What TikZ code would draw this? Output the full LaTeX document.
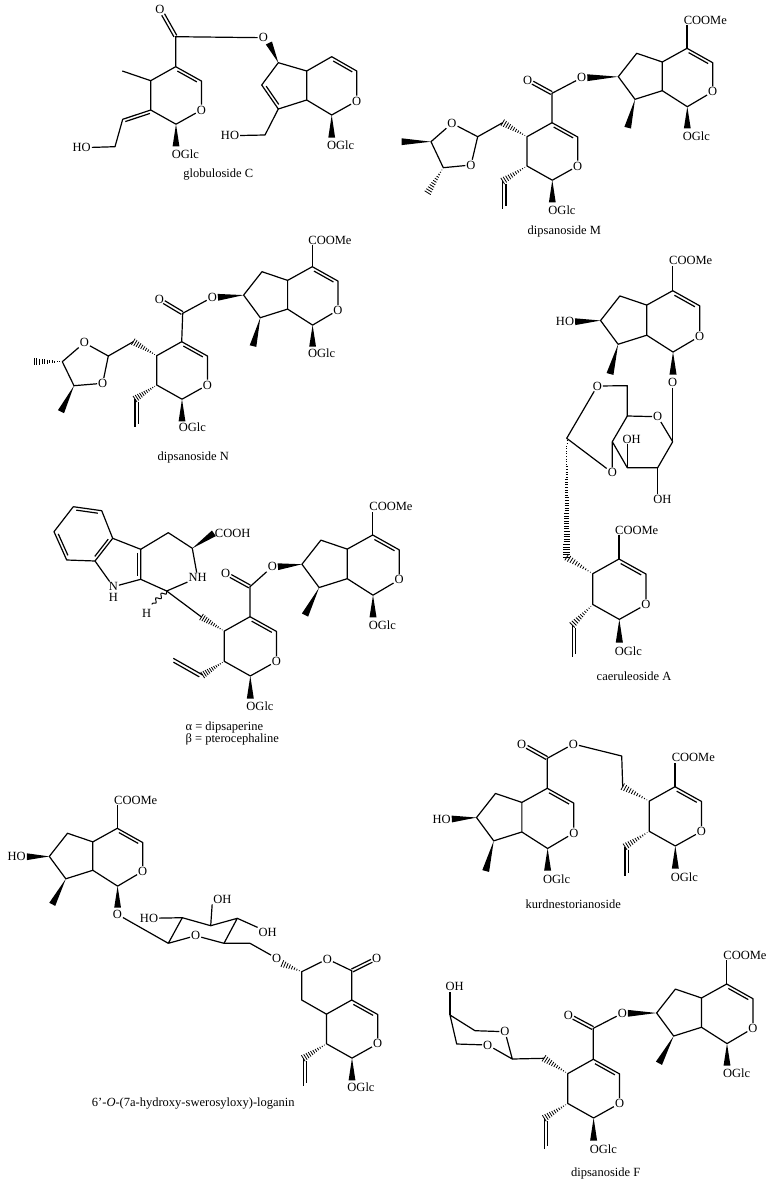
\documentclass[tikz,border=0pt]{standalone}
\usepackage{fontspec}
\setmainfont{Liberation Serif}[Ligatures=Common]
\usetikzlibrary{calc,decorations.pathmorphing}

\tikzset{
  atom/.style={inner sep=.5pt,font=\fontsize{12.5}{14}\selectfont},
  caption/.style={inner sep=0pt,font=\fontsize{12.5}{14}\selectfont},
  wavy/.style={decorate,decoration={snake,amplitude=2pt,segment length=7pt}},
}

\newcommand\dbond[4][.12]{\draw ($(#2)!#1!(#3)!#4!90:(#3)$) -- ($(#3)!#1!(#2)!#4!-90:(#2)$);}
\newcommand\cobond[2]{%
  \draw ($(#1)!.02!(#2)!1.6pt!90:(#2)$) -- ($(#2)!.2!(#1)!1.6pt!-90:(#1)$);
  \draw ($(#1)!.02!(#2)!-1.6pt!90:(#2)$) -- ($(#2)!.2!(#1)!-1.6pt!-90:(#1)$);}
\newcommand\wedgebond[2]{\fill (#1) -- ($(#2)!3.4pt!90:(#1)$) -- ($(#2)!3.4pt!-90:(#1)$) -- cycle;}
\newcommand\hashbond[3]{\foreach \i in {1,...,#3}{%
  \pgfmathsetmacro\t{\i/#3}\pgfmathsetmacro\w{\t*3.6}%
  \draw[line width=.8pt] ($(#1)!\t!(#2)!\w pt!90:(#1)$) -- ($(#1)!\t!(#2)!\w pt!-90:(#1)$);}}

\newcommand\secoring[4]{%
  \begin{scope}[shift={(#2,#3)},scale=#4,name prefix=#1-]
    \coordinate (c4) at (0,0);
    \coordinate (c3) at (25.7,14.3);
    \node[atom] (o2) at (25.7,43.3) {O};
    \coordinate (c1) at (.3,57.5);
    \coordinate (c9) at (-25,43.3);
    \coordinate (c5) at (-25,14);
    \coordinate (w1) at (.3,79.6);
    \draw[line join=round] (o2) -- (c3) -- (c4) -- (c5) -- (c9) -- (c1) -- (o2);
    \dbond{c4}{c3}{-3pt}
    \wedgebond{c1}{w1}
  \end{scope}}

\newcommand\iridoid[6]{%
  \begin{scope}[shift={(#2,#3)},scale=#4,name prefix=#1-]
    \coordinate (c4) at (0,0);
    \coordinate (c3) at (25.7,14.4);
    \node[atom] (o2) at (25.7,43.4) {O};
    \coordinate (c1) at (.3,58.4);
    \coordinate (c9) at (-24.7,42.4);
    \coordinate (c5) at (-24.7,13.7);
    \coordinate (c6) at (-50.3,5);
    \coordinate (c7) at (-68.7,28.4);
    \coordinate (c8) at (-52,51);
    \coordinate (me) at (#5,#6);
    \coordinate (w1) at (.3,80);
    \draw[line join=round] (o2) -- (c3) -- (c4) -- (c5) -- (c9) -- (c1) -- (o2);
    \draw[line join=round] (c5) -- (c6) -- (c7) -- (c8) -- (c9);
    \dbond{c4}{c3}{-3pt}
    \wedgebond{c8}{me}
    \wedgebond{c1}{w1}
  \end{scope}}

\newcommand\coome[3]{%
  \node[atom] (#1-coome) at (#2,#3) {COOMe};
  \draw (#1-c4) -- (#1-c4 |- #1-coome.south);}

\begin{document}
\begin{tikzpicture}[x=1pt,y=-1pt,line width=1.2pt]
  \useasboundingbox (0,0) rectangle (772,1185);

  \secoring{ga}{175.7}{66.7}{1}
  \node[atom] (ga-oglc) at (185.3,154.3) {OGlc};
  \node[atom] (ga-co) at (160,9) {O};
  \coordinate (ga-c) at (175.7,36.7);
  \node[atom] (gb-oe) at (263.3,37.7) {O};
  \coordinate (ga-me) at (122.3,71);
  \coordinate (ga-ch) at (122.7,119.3);
  \coordinate (ga-ch2) at (115,146.7);
  \node[atom] (ga-ho) at (81.7,147.7) {HO};
  \draw (ga-c4) -- (ga-c) -- (gb-oe);
  \cobond{ga-c}{ga-co}
  \draw (ga-c5) -- (ga-me);
  \draw[line join=round] (ga-c9) -- (ga-ch) -- (ga-ch2) -- (ga-ho);
  \dbond[.06]{ga-c9}{ga-ch}{3pt}
  \coordinate (gb-c6) at (278.3,62.7);
  \coordinate (gb-c5) at (306.7,71);
  \coordinate (gb-c4) at (331.7,56.7);
  \coordinate (gb-c3) at (356.7,71);
  \node[atom] (gb-o2) at (356.7,101) {O};
  \coordinate (gb-c1) at (331.7,115);
  \coordinate (gb-c9) at (306.7,100);
  \coordinate (gb-c8) at (278.3,109);
  \coordinate (gb-c7) at (261.7,85);
  \coordinate (gb-ch2) at (265,135);
  \coordinate (gb-w1) at (331.7,137.7);
  \node[atom] (gb-ho) at (230,135.7) {HO};
  \node[atom] (gb-oglc) at (340.7,145) {OGlc};
  \draw[line join=round] (gb-o2) -- (gb-c3) -- (gb-c4) -- (gb-c5) -- (gb-c9) -- (gb-c1) -- (gb-o2);
  \draw[line join=round] (gb-c5) -- (gb-c6) -- (gb-c7) -- (gb-c8) -- (gb-c9);
  \draw[line join=round] (gb-c8) -- (gb-ch2) -- (gb-ho);
  \dbond{gb-c4}{gb-c3}{-3pt}
  \dbond{gb-c7}{gb-c8}{3pt}
  \wedgebond{gb-c6}{gb-oe.south east}
  \wedgebond{gb-c1}{gb-w1}
  \node[caption] (ga-name) at (218.3,175) {globuloside C};

  \iridoid{ma}{687}{48.3}{1}{-59.3}{79.4}
  \coome{ma}{705.3}{20}
  \node[atom] (ma-oglc) at (696.3,136) {OGlc};
  \secoring{mb}{552}{122.7}{1}
  \node[atom] (mb-oglc) at (562,210) {OGlc};
  \node[atom] (ma-oe) at (581.7,77.7) {O};
  \coordinate (mb-c) at (552,93.3);
  \node[atom] (mb-co) at (527.7,80) {O};
  \draw (mb-c4) -- (mb-c) -- (ma-oe);
  \cobond{mb-c}{mb-co}
  \wedgebond{ma-c7}{ma-oe.east}
  \coordinate (mb-ch2) at (502.7,122.7);
  \coordinate (mb-v1) at (502.7,181);
  \coordinate (mb-v2) at (502.7,209.3);
  \hashbond{mb-c5}{mb-ch2}{11}
  \hashbond{mb-c9}{mb-v1}{11}
  \draw (mb-v1) -- (mb-v2);
  \dbond[.1]{mb-v1}{mb-v2}{3.3pt}
  \coordinate (mc-c2) at (477.7,136.7);
  \node[atom] (mc-o1) at (452,123.3) {O};
  \coordinate (mc-c4) at (431,141.7);
  \coordinate (mc-c5) at (443.3,167.7);
  \node[atom] (mc-o3) at (471,165) {O};
  \coordinate (mc-me1) at (401.7,141.7);
  \coordinate (mc-me2) at (427.7,192.7);
  \draw[line join=round] (mb-ch2) -- (mc-c2) -- (mc-o1) -- (mc-c4) -- (mc-c5) -- (mc-o3) -- (mc-c2);
  \wedgebond{mc-c4}{mc-me1}
  \hashbond{mc-c5}{mc-me2}{11}
  \node[caption] (ma-name) at (564.3,231.7) {dipsanoside M};

  \iridoid{na}{312.3}{266.7}{1}{-59.3}{79.4}
  \coome{na}{330}{240}
  \node[atom] (na-oglc) at (321.7,353.3) {OGlc};
  \secoring{nb}{181.7}{341.7}{1}
  \node[atom] (nb-oglc) at (192.3,427.7) {OGlc};
  \node[atom] (na-oe) at (212.3,297.3) {O};
  \coordinate (nb-c) at (182.7,313.3);
  \node[atom] (nb-co) at (159.3,299.3) {O};
  \draw (nb-c4) -- (nb-c) -- (na-oe);
  \cobond{nb-c}{nb-co}
  \wedgebond{na-c7}{na-oe.east}
  \coordinate (nb-ch2) at (133.3,341.7);
  \coordinate (nb-v1) at (135,399);
  \coordinate (nb-v2) at (135,427);
  \hashbond{nb-c5}{nb-ch2}{11}
  \hashbond{nb-c9}{nb-v1}{11}
  \draw (nb-v1) -- (nb-v2);
  \dbond[.1]{nb-v1}{nb-v2}{3.3pt}
  \coordinate (nc-c2) at (108.3,356);
  \node[atom] (nc-o1) at (84.3,342.7) {O};
  \coordinate (nc-c4) at (62.3,361.7);
  \coordinate (nc-c5) at (74,385.7);
  \node[atom] (nc-o3) at (102.7,383.3) {O};
  \coordinate (nc-me1) at (34.3,361.7);
  \coordinate (nc-me2) at (61,411.7);
  \draw[line join=round] (nb-ch2) -- (nc-c2) -- (nc-o1) -- (nc-c4) -- (nc-c5) -- (nc-o3) -- (nc-c2);
  \hashbond{nc-c4}{nc-me1}{11}
  \wedgebond{nc-c5}{nc-me2}
  \node[caption] (na-name) at (193.3,457.3) {dipsanoside N};

  \iridoid{ca}{672.7}{290.7}{1.05}{-59.7}{79.3}
  \coome{ca}{690.7}{260.7}
  \node[atom] (ca-ho) at (565,321.7) {HO};
  \wedgebond{ca-c7}{ca-ho.east}
  \node[atom] (cs-o1) at (672.7,382.3) {O};
  \coordinate (cs-c1) at (672.7,441.7);
  \node[atom] (cs-o5) at (657.7,416.7) {O};
  \coordinate (cs-c5) at (627.3,416);
  \coordinate (cs-c6) at (627.3,385.7);
  \node[atom] (cs-o6) at (597.3,386) {O};
  \coordinate (cs-ac) at (566.7,438.3);
  \node[atom] (cs-o4) at (612.3,472.7) {O};
  \coordinate (cs-c4) at (612.3,441.7);
  \coordinate (cs-c3) at (627.3,467.7);
  \coordinate (cs-c2) at (657.7,467.7);
  \node[atom] (cs-oh3) at (631.7,439) {OH};
  \node[atom] (cs-oh2) at (662.3,499.3) {OH};
  \draw (cs-o1) -- (cs-c1);
  \draw[line join=round] (cs-c1) -- (cs-o5) -- (cs-c5) -- (cs-c4) -- (cs-c3) -- (cs-c2) -- (cs-c1);
  \draw[line join=round] (cs-c5) -- (cs-c6) -- (cs-o6) -- (cs-ac) -- (cs-o4) -- (cs-c4);
  \draw (cs-c3) -- (cs-c3 |- cs-oh3.south);
  \draw (cs-c2) -- (cs-c2 |- cs-oh2.north);
  \secoring{cb}{619}{559}{1.05}
  \coome{cb}{636.7}{530}
  \node[atom] (cb-oglc) at (628.3,651.7) {OGlc};
  \coordinate (cb-ch2) at (566.7,557.3);
  \coordinate (cb-v1) at (572.3,625);
  \coordinate (cb-v2) at (572.3,656.7);
  \hashbond{cs-ac}{cb-ch2}{46}
  \hashbond{cb-c5}{cb-ch2}{11}
  \hashbond{cb-c9}{cb-v1}{11}
  \draw (cb-v1) -- (cb-v2);
  \dbond[.1]{cb-v1}{cb-v2}{3.3pt}
  \node[caption] (ca-name) at (634,676) {caeruleoside A};

  \coordinate (da-b1) at (73.3,506.7);
  \coordinate (da-b2) at (101.7,510.7);
  \coordinate (da-b3) at (112.7,538.3);
  \coordinate (da-b4) at (95,561);
  \coordinate (da-b5) at (66.7,560);
  \coordinate (da-b6) at (54,531.7);
  \node[atom] (da-n9) at (113.3,586.7) {N};
  \node[atom] (da-h9) at (113.3,597.3) {H};
  \coordinate (da-c3a) at (140.7,549.3);
  \coordinate (da-c2) at (140.7,579.3);
  \coordinate (da-c4) at (168.3,532.7);
  \coordinate (da-c5) at (192.3,548.3);
  \node[atom,anchor=west] (da-nh) at (187.5,577.7) {NH};
  \coordinate (da-c1) at (166.7,591);
  \node[atom] (da-cooh) at (232.7,533.3) {COOH};
  \coordinate (da-wv) at (151.7,604.3);
  \node[atom] (da-h) at (146.7,613.5) {H};
  \draw[line join=round] (da-b1) -- (da-b2) -- (da-b3) -- (da-b4) -- (da-b5) -- (da-b6) -- (da-b1);
  \dbond{da-b1}{da-b2}{-3pt}
  \dbond{da-b3}{da-b4}{-3pt}
  \dbond{da-b5}{da-b6}{-3pt}
  \draw[line join=round] (da-b3) -- (da-c3a) -- (da-c2) -- (da-n9) -- (da-b4);
  \dbond{da-c3a}{da-c2}{-3pt}
  \draw[line join=round] (da-c3a) -- (da-c4) -- (da-c5) -- (da-nh) -- (da-c1) -- (da-c2);
  \wedgebond{da-c5}{da-cooh.west}
  \draw[wavy,line width=1pt] (da-c1) -- (da-wv);
  \iridoid{db}{372.7}{535}{1.03}{-65.7}{77.7}
  \coome{db}{391}{506.7}
  \node[atom] (db-oglc) at (382.3,625.7) {OGlc};
  \secoring{dc}{250}{616.7}{1.03}
  \node[atom] (dc-oglc) at (260,706) {OGlc};
  \node[atom] (db-oe) at (272.3,566.7) {O};
  \coordinate (dc-c) at (250,586.7);
  \node[atom] (dc-co) at (225.7,573.3) {O};
  \draw (dc-c4) -- (dc-c) -- (db-oe);
  \cobond{dc-c}{dc-co}
  \wedgebond{db-c7}{db-oe.east}
  \coordinate (dc-ch2) at (201.5,617);
  \coordinate (dc-v1) at (202.7,675);
  \coordinate (dc-v2) at (173.3,658.3);
  \draw (da-c1) -- (dc-ch2);
  \hashbond{dc-c5}{dc-ch2}{11}
  \hashbond{dc-c9}{dc-v1}{11}
  \draw (dc-v1) -- (dc-v2);
  \dbond[.06]{dc-v1}{dc-v2}{3.3pt}
  \node[caption,anchor=west] (da-name1) at (185,727.3) {α = dipsaperine};
  \node[caption,anchor=west] (da-name2) at (185,739.3) {β = pterocephaline};

  \iridoid{ka}{547.3}{788.3}{1.03}{-59.8}{80.3}
  \node[atom] (ka-oglc) at (556.7,879) {OGlc};
  \node[atom] (ka-ho) at (441.7,819) {HO};
  \wedgebond{ka-c7}{ka-ho.east}
  \coordinate (ka-c) at (547.3,758.3);
  \node[atom] (ka-co) at (521.7,744) {O};
  \node[atom] (ka-oe) at (573.3,744) {O};
  \coordinate (kb-a) at (621.7,756);
  \coordinate (kb-ch2) at (622.7,786.7);
  \draw (ka-c4) -- (ka-c) -- (ka-oe);
  \cobond{ka-c}{ka-co}
  \draw[line join=round] (ka-oe) -- (kb-a) -- (kb-ch2);
  \secoring{kb}{675}{786.7}{1.03}
  \coome{kb}{693.3}{757.3}
  \node[atom] (kb-oglc) at (684.3,877.3) {OGlc};
  \coordinate (kb-v1) at (625,846.7);
  \coordinate (kb-v2) at (625,876);
  \hashbond{kb-c5}{kb-ch2}{11}
  \hashbond{kb-c9}{kb-v1}{11}
  \draw (kb-v1) -- (kb-v2);
  \dbond[.1]{kb-v1}{kb-v2}{3.3pt}
  \node[caption] (ka-name) at (573.3,904) {kurdnestorianoside};

  \iridoid{la}{117.3}{828.3}{.99}{-65.7}{76.8}
  \coome{la}{135.7}{800}
  \node[atom] (la-ho) at (16.7,856.7) {HO};
  \wedgebond{la-c7}{la-ho.east}
  \node[atom] (ls-o1) at (117.3,914.3) {O};
  \coordinate (ls-c1) at (168.3,943.3);
  \coordinate (ls-c2) at (182.3,917.7);
  \coordinate (ls-c3) at (210.7,925.7);
  \coordinate (ls-c4) at (237.3,918.3);
  \coordinate (ls-c5) at (224,943.3);
  \node[atom] (ls-o5) at (195.7,935.7) {O};
  \coordinate (ls-c6) at (250,943.3);
  \node[atom] (ls-ho2) at (149,918.3) {HO};
  \node[atom] (ls-oh3) at (222.3,899) {OH};
  \node[atom] (ls-oh4) at (267.7,932.7) {OH};
  \node[atom] (lb-o) at (276.7,958.3) {O};
  \draw (ls-o1) -- (ls-c1);
  \draw[line join=round] (ls-c1) -- (ls-c2) -- (ls-c3) -- (ls-c4) -- (ls-c5) -- (ls-o5) -- (ls-c1);
  \draw (ls-c2) -- (ls-ho2);
  \draw (ls-c3) -- (ls-oh3.south west);
  \draw (ls-c4) -- (ls-oh4.north west);
  \draw[line join=round] (ls-c5) -- (ls-c6) -- (lb-o);
  \secoring{lb}{351.7}{1000}{1.01}
  \node[atom] (lb-oglc) at (361,1087.3) {OGlc};
  \coordinate (lb-cco) at (351.7,970.7);
  \node[atom] (lb-co) at (376.7,958.3) {O};
  \node[atom] (lb-or) at (327.3,959) {O};
  \coordinate (lb-ch) at (301.7,971.7);
  \coordinate (lb-ch2) at (301.7,1000);
  \coordinate (lb-v1) at (303.3,1058.3);
  \coordinate (lb-v2) at (303.3,1086);
  \draw[line join=round] (lb-c4) -- (lb-cco) -- (lb-or) -- (lb-ch) -- (lb-ch2) -- (lb-c5);
  \cobond{lb-cco}{lb-co}
  \hashbond{lb-ch}{lb-o.south east}{8}
  \hashbond{lb-c9}{lb-v1}{11}
  \draw (lb-v1) -- (lb-v2);
  \dbond[.1]{lb-v1}{lb-v2}{3.3pt}
  \node[caption] (la-name) at (193.3,1103.3) {6'-\textit{O}-(7a-hydroxy-swerosyloxy)-loganin};

  \iridoid{fa}{726.7}{984}{1.02}{-66.4}{77.7}
  \coome{fa}{745}{955}
  \node[atom] (fa-oglc) at (736.7,1073.3) {OGlc};
  \secoring{fb}{593.3}{1059.3}{1.02}
  \node[atom] (fb-oglc) at (603.3,1149) {OGlc};
  \node[atom] (fa-oe) at (622.3,1013.3) {O};
  \coordinate (fb-c) at (593.3,1028.3);
  \node[atom] (fb-co) at (568.3,1015) {O};
  \draw (fb-c4) -- (fb-c) -- (fa-oe);
  \cobond{fb-c}{fb-co}
  \wedgebond{fa-c7}{fa-oe.east}
  \coordinate (fb-ch2) at (544,1058.3);
  \coordinate (fb-v1) at (544.3,1118.3);
  \coordinate (fb-v2) at (544.3,1149);
  \hashbond{fb-c5}{fb-ch2}{11}
  \hashbond{fb-c9}{fb-v1}{11}
  \draw (fb-v1) -- (fb-v2);
  \dbond[.1]{fb-v1}{fb-v2}{3.3pt}
  \coordinate (fc-ac) at (512.3,1059);
  \node[atom] (fc-o1) at (505,1031.7) {O};
  \node[atom] (fc-o3) at (487.7,1045) {O};
  \coordinate (fc-c1) at (475,1030.7);
  \coordinate (fc-c3) at (456.7,1044);
  \coordinate (fc-c2) at (450,1015);
  \node[atom] (fc-oh) at (454.7,986.7) {OH};
  \draw (fb-ch2) -- (fc-ac);
  \draw[line join=round] (fc-o1) -- (fc-ac) -- (fc-o3);
  \draw[line join=round] (fc-o1) -- (fc-c1) -- (fc-c2) -- (fc-c3) -- (fc-o3);
  \draw (fc-c2) -- (fc-c2 |- fc-oh.south);
  \node[caption] (fa-name) at (605.7,1173.3) {dipsanoside F};
\end{tikzpicture}
\end{document}
